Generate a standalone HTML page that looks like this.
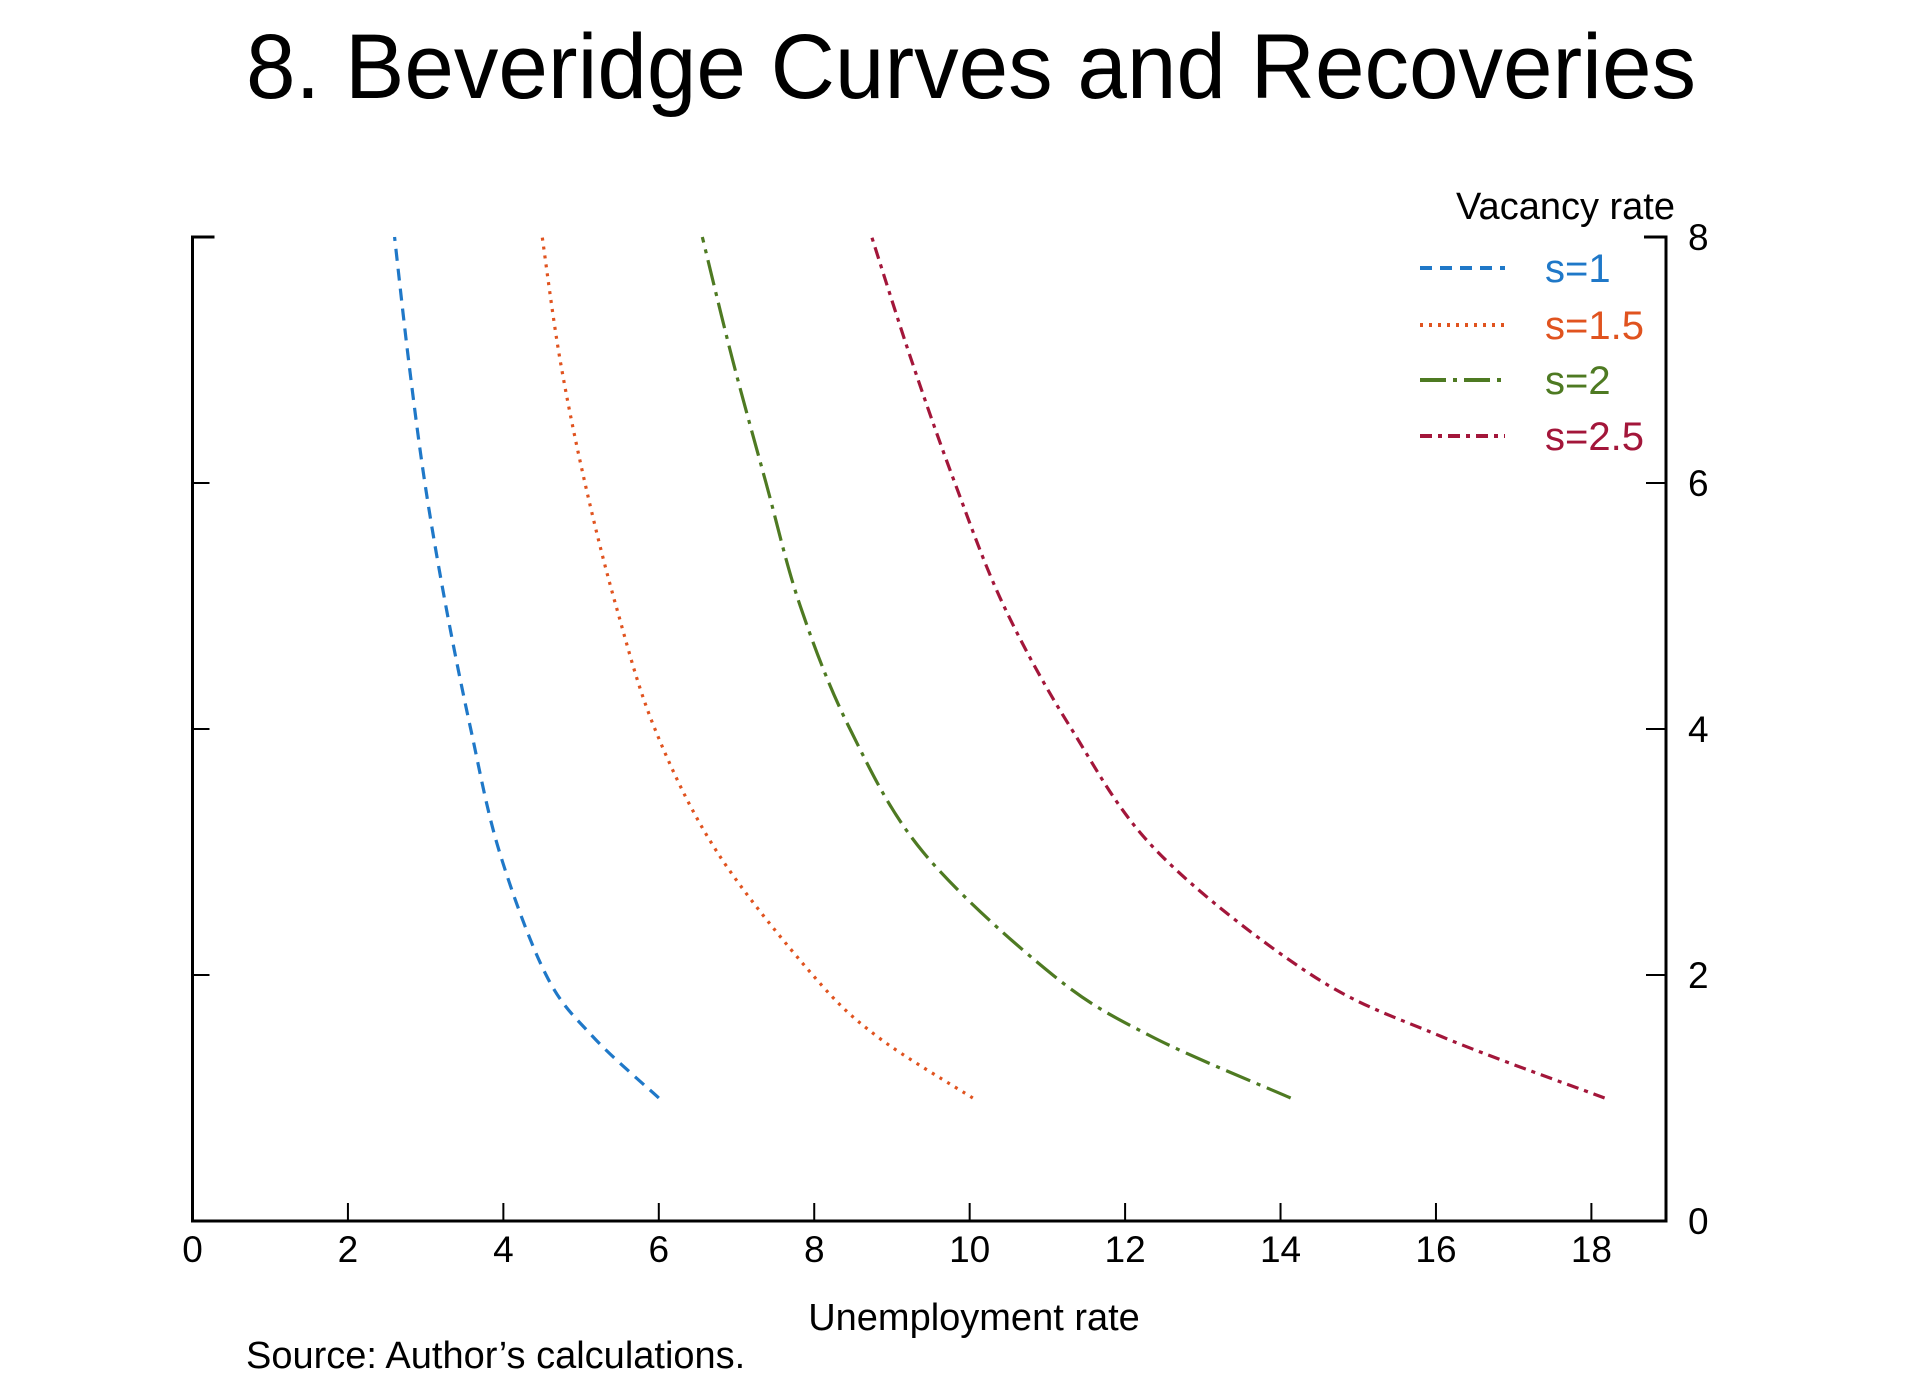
<!DOCTYPE html>
<html><head><meta charset="utf-8"><style>
html,body{margin:0;padding:0;background:#fff;}
svg{display:block;font-family:"Liberation Sans",Arial,sans-serif;}
</style></head><body>
<svg id="chart" width="1920" height="1391" viewBox="0 0 1920 1391">
<text x="971" y="98" text-anchor="middle" font-size="92" textLength="1450" lengthAdjust="spacingAndGlyphs" fill="#000">8.  Beveridge Curves and Recoveries</text>
<g id="axes"></g>
<g id="series"></g>
<g id="legend"></g>
<text x="1675" y="219" text-anchor="end" font-size="38" fill="#000">Vacancy rate</text>
<text x="974" y="1330" text-anchor="middle" font-size="38" fill="#000">Unemployment rate</text>
<text x="246" y="1368" font-size="38" fill="#000">Source: Author’s calculations.</text>
</svg>
<script>
const vacancy = [1, 1.5, 2, 3, 4, 5, 6, 7, 8];
const uS1  = [6.0, 5.15, 4.55, 3.95, 3.58, 3.26, 2.99, 2.78, 2.60];
const uS15 = [10.04, 8.81, 7.98, 6.75, 5.95, 5.45, 5.05, 4.73, 4.50];
const uS2  = [14.13, 12.34, 11.07, 9.40, 8.46, 7.82, 7.38, 6.95, 6.56];
const uS25 = [18.17, 16.07, 14.40, 12.42, 11.31, 10.44, 9.81, 9.25, 8.74];
const seriesLabels = ["s=1", "s=1.5", "s=2", "s=2.5"];
const xTicks = [0, 2, 4, 6, 8, 10, 12, 14, 16, 18];
const yTicks = [0, 2, 4, 6, 8];

const NS = "http://www.w3.org/2000/svg";
const L = 192.5, R = 1666, T = 237, B = 1221;
const xMax = 18.96, yMax = 8;
function xs(v){ return L + v / xMax * (R - L); }
function ys(v){ return B - v / yMax * (B - T); }
function mk(tag, attrs, parent){
  const e = document.createElementNS(NS, tag);
  for (const k in attrs) e.setAttribute(k, attrs[k]);
  parent.appendChild(e); return e;
}
const axes = document.getElementById('axes');
let ln;
ln = mk('path', {d:`M${L+22},${T} H${L} V${B} H${R} V${T} H${R-22}`, fill:'none', stroke:'#000', 'stroke-width':3}, axes);


xTicks.forEach(t => {
  if (t > 0) {
    const tk = mk('line', {x1:xs(t), x2:xs(t), y1:B, y2:B-18, stroke:'#000', 'stroke-width':2}, axes);
    
    
  }
  const lb = mk('text', {x:xs(t), y:1262, 'text-anchor':'middle', 'font-size':37, fill:'#000'}, axes);
  lb.textContent = t;
  
  
});
yTicks.forEach(t => {
  if (t > 0 && t < 8) {
    const a = mk('line', {x1:L, x2:L+17, y1:ys(t), y2:ys(t), stroke:'#000', 'stroke-width':2}, axes);
    
    
    const b = mk('line', {x1:R, x2:R-20, y1:ys(t), y2:ys(t), stroke:'#000', 'stroke-width':2}, axes);
    
    
  }
  const lb = mk('text', {x:1688, y:ys(t)+13, 'font-size':37, fill:'#000'}, axes);
  lb.textContent = t;
  
  
});

const colors = ['#1f78c8', '#e0531f', '#4e7a22', '#a3163a'];
const dashes = ['12 8', '3 6', '26 7 4 7', '12 6 4 6'];
const allU = [uS1, uS15, uS2, uS25];
function pathFrom(us){
  const p = us.map((u,i) => [xs(u), ys(vacancy[i])]);
  let d = `M${p[0][0]},${p[0][1]}`;
  for (let i = 0; i < p.length-1; i++){
    const p0 = p[Math.max(0,i-1)], p1 = p[i], p2 = p[i+1], p3 = p[Math.min(p.length-1,i+2)];
    const c1 = [p1[0]+(p2[0]-p0[0])/6, p1[1]+(p2[1]-p0[1])/6];
    const c2 = [p2[0]-(p3[0]-p1[0])/6, p2[1]-(p3[1]-p1[1])/6];
    d += ` C${c1[0]},${c1[1]} ${c2[0]},${c2[1]} ${p2[0]},${p2[1]}`;
  }
  return d;
}
const series = document.getElementById('series');
const legend = document.getElementById('legend');
const legY = [268, 325, 380, 436];
allU.forEach((us, i) => {
  const c = mk('path', {d:pathFrom(us), fill:'none', stroke:colors[i], 'stroke-width':3.2, 'stroke-dasharray':dashes[i]}, series);
  
  
  const ll = mk('line', {x1:1420, x2:1505, y1:legY[i], y2:legY[i], stroke:colors[i], 'stroke-width':4, 'stroke-dasharray':dashes[i]}, legend);
  
  
  const lt = mk('text', {x:1545, y:legY[i]+14, 'font-size':40, fill:colors[i]}, legend);
  lt.textContent = seriesLabels[i];
  
  
});
</script>
</body></html>
